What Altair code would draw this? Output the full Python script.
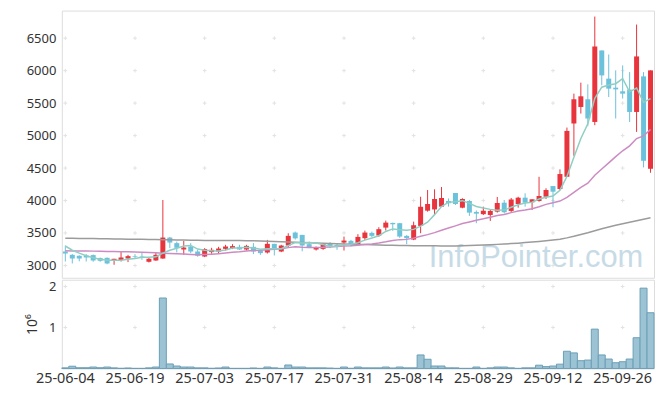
import altair as alt
import pandas as pd

# trading days (KRX), 2025-06-04 .. 2025-10-02
june = ["04", "05", "09", "10", "11", "12", "13", "16", "17", "18", "19", "20", "23", "24", "25", "26", "27", "30"]
july = ["01", "02", "03", "04", "07", "08", "09", "10", "11", "14", "15", "16", "17", "18", "21", "22", "23", "24",
        "25", "28", "29", "30", "31"]
aug = ["01", "04", "05", "06", "07", "08", "11", "12", "13", "14", "18", "19", "20", "21", "22", "25", "26", "27",
       "28", "29"]
sep = ["01", "02", "03", "04", "05", "08", "09", "10", "11", "12", "15", "16", "17", "18", "19", "22", "23", "24",
       "25", "26", "29", "30"]
octo = ["01", "02"]
dates = (["25-06-" + d for d in june] + ["25-07-" + d for d in july] + ["25-08-" + d for d in aug]
         + ["25-09-" + d for d in sep] + ["25-10-" + d for d in octo])

opens = [3215, 3164, 3149, 3154, 3160, 3114, 3118, 3083, 3083, 3107,
         3140, 3138, 3057, 3077, 3107, 3430, 3344, 3246, 3292, 3215,
         3138, 3206, 3215, 3256, 3267, 3287, 3246, 3287, 3230, 3200,
         3333, 3215, 3307, 3507, 3471, 3328, 3246, 3256, 3333, 3318,
         3353, 3379, 3328, 3420, 3502, 3461, 3583, 3655, 3651, 3456,
         3399, 3609, 3844, 3863, 3906, 3993, 4116, 3890, 3993, 3824,
         3790, 3778, 3829, 3967, 3840, 3947, 4044, 3973, 3993, 4059,
         4223, 4177, 4366, 5186, 5441, 5559, 5210, 6311, 5877, 5738,
         5682, 5708, 5364, 5912, 4489]
highs = [3307, 3175, 3157, 3175, 3169, 3123, 3123, 3103, 3210, 3164,
         3175, 3195, 3114, 3200, 4008, 3440, 3368, 3379, 3344, 3241,
         3267, 3272, 3287, 3318, 3328, 3318, 3318, 3344, 3241, 3394,
         3333, 3318, 3497, 3522, 3471, 3368, 3292, 3344, 3359, 3344,
         3445, 3394, 3482, 3537, 3522, 3589, 3691, 3660, 3655, 3467,
         3675, 4059, 4162, 4173, 4208, 4032, 4116, 4035, 4009, 3847,
         3906, 3855, 4055, 4008, 4039, 4059, 4111, 4019, 4366, 4188,
         4223, 4480, 5124, 5646, 5815, 5789, 6833, 6311, 6249, 6004,
         6081, 5978, 6710, 5978, 6004]
lows = [3061, 3031, 3064, 3061, 3057, 3057, 3018, 3011, 3061, 3052,
        3103, 3087, 3046, 3072, 3103, 3267, 3200, 3164, 3190, 3134,
        3129, 3180, 3180, 3230, 3252, 3241, 3230, 3175, 3164, 3184,
        3154, 3206, 3282, 3399, 3218, 3267, 3230, 3241, 3267, 3241,
        3230, 3292, 3318, 3394, 3436, 3441, 3537, 3533, 3425, 3328,
        3390, 3497, 3829, 3778, 3901, 3906, 3932, 3881, 3763, 3651,
        3778, 3686, 3814, 3801, 3809, 3890, 3906, 3855, 3982, 4024,
        3896, 4162, 4366, 4689, 5339, 5144, 5160, 5774, 5594, 5263,
        5570, 5210, 5057, 4510, 4428]
closes = [3184, 3107, 3107, 3123, 3077, 3072, 3031, 3103, 3123, 3144,
          3130, 3123, 3103, 3164, 3430, 3353, 3272, 3276, 3215, 3149,
          3252, 3241, 3261, 3292, 3298, 3246, 3302, 3215, 3190, 3333,
          3246, 3307, 3456, 3418, 3307, 3276, 3276, 3328, 3298, 3298,
          3384, 3328, 3440, 3507, 3456, 3559, 3660, 3635, 3445, 3420,
          3620, 3904, 3947, 4024, 4039, 3958, 3947, 4024, 3814, 3798,
          3843, 3840, 3962, 3820, 4016, 4044, 3967, 4019, 4070, 4162,
          4136, 4408, 5072, 5559, 5605, 5263, 6372, 5927, 5723, 5712,
          5646, 5364, 6219, 4612, 6004]
volumes = [15000, 55000, 18000, 18000, 35000, 18000, 35000, 15000, 5000, 12000,
           3000, 3000, 15000, 35000, 1720000, 110000, 60000, 35000, 35000, 15000,
           15000, 5000, 12000, 35000, 3000, 3000, 3000, 12000, 3000, 35000,
           15000, 3000, 85000, 35000, 35000, 15000, 15000, 15000, 10000, 3000,
           35000, 5000, 35000, 15000, 15000, 15000, 35000, 12000, 35000, 15000,
           15000, 330000, 225000, 60000, 60000, 15000, 15000, 3000, 3000, 35000,
           3000, 15000, 35000, 35000, 15000, 3000, 15000, 15000, 80000, 45000,
           60000, 105000, 420000, 380000, 190000, 205000, 960000, 330000, 230000, 140000,
           165000, 230000, 750000, 1960000, 1360000]
ma5 = [3300, 3235, 3190, 3150, 3120, 3097, 3082, 3081, 3081, 3095,
       3106, 3125, 3125, 3133, 3190, 3235, 3264, 3299, 3309, 3253,
       3233, 3227, 3224, 3239, 3269, 3268, 3280, 3271, 3250, 3257,
       3257, 3258, 3306, 3352, 3347, 3353, 3347, 3321, 3297, 3295,
       3317, 3327, 3350, 3391, 3423, 3458, 3524, 3563, 3551, 3544,
       3556, 3605, 3667, 3783, 3907, 3974, 3983, 3998, 3956, 3908,
       3885, 3864, 3851, 3853, 3896, 3936, 3962, 3973, 4023, 4052,
       4071, 4159, 4370, 4667, 4956, 5181, 5574, 5745, 5778, 5799,
       5876, 5674, 5733, 5512, 5570]
ma20 = [3225, 3224, 3223, 3222, 3221, 3219, 3217, 3215, 3213, 3210,
        3207, 3203, 3199, 3195, 3190, 3185, 3180, 3175, 3170, 3164,
        3168, 3174, 3182, 3191, 3202, 3210, 3224, 3229, 3233, 3242,
        3248, 3257, 3275, 3288, 3281, 3278, 3278, 3280, 3285, 3292,
        3299, 3303, 3312, 3323, 3331, 3346, 3364, 3385, 3398, 3402,
        3421, 3451, 3475, 3506, 3542, 3576, 3610, 3645, 3670, 3695,
        3718, 3744, 3770, 3786, 3814, 3838, 3853, 3873, 3904, 3941,
        3967, 3992, 4048, 4125, 4203, 4268, 4390, 4485, 4580, 4676,
        4766, 4842, 4955, 4995, 5095]
ma60 = [3420, 3418, 3417, 3415, 3414, 3412, 3410, 3409, 3407, 3405,
        3403, 3402, 3400, 3399, 3398, 3396, 3394, 3392, 3390, 3388,
        3386, 3385, 3384, 3384, 3383, 3383, 3382, 3380, 3377, 3374,
        3370, 3366, 3362, 3358, 3354, 3350, 3346, 3342, 3338, 3335,
        3332, 3328, 3325, 3322, 3319, 3316, 3313, 3310, 3308, 3306,
        3305, 3304, 3303, 3302, 3301, 3300, 3301, 3303, 3306, 3310,
        3314, 3319, 3325, 3331, 3337, 3344, 3352, 3360, 3369, 3380,
        3392, 3405, 3425, 3450, 3478, 3505, 3535, 3565, 3592, 3618,
        3643, 3667, 3690, 3712, 3735]

price_ticks = [3000, 3500, 4000, 4500, 5000, 5500, 6000, 6500]
volume_ticks = [1000000, 2000000]
label_dates = dates[::10]

RED = "#e8343c"
BLUE = "#6cc2da"
FONT = "Noto Sans"
CROSS = "#e2e2e2"

df = pd.DataFrame({"date": dates, "open": opens, "high": highs, "low": lows, "close": closes,
                   "volume": volumes, "ma5": ma5, "ma20": ma20, "ma60": ma60})
df["dir"] = ["up" if c >= o else "down" for o, c in zip(opens, closes)]

price_cross = pd.DataFrame([(d, v) for d in label_dates for v in price_ticks], columns=["date", "value"])
vol_cross = pd.DataFrame([(d, v) for d in label_dates for v in volume_ticks], columns=["date", "value"])

xscale = alt.Scale(type="band", paddingInner=0, paddingOuter=0)
pscale = alt.Scale(domain=[2811, 6925], nice=False, zero=False)
vscale = alt.Scale(domain=[0, 2165000], nice=False)
color = alt.Color("dir:N", scale=alt.Scale(domain=["up", "down"], range=[RED, BLUE]), legend=None)
cross_shape = "M-1,0H1M0,-1V1"

price_axis = alt.Axis(values=price_ticks, format="d", labelOverlap=False, ticks=False, domain=False,
                      grid=False, labelFontSize=13, labelColor="#333", labelFont=FONT, labelPadding=6,
                      title=None)

wm = alt.Chart(pd.DataFrame({"t": ["InfoPointer.com"]})).mark_text(
    font="Liberation Sans", fontSize=31, color="#c7dbe6", align="left", baseline="alphabetic"
).encode(x=alt.value(368), y=alt.value(257), text="t:N")

pcross = alt.Chart(price_cross).mark_point(
    shape=cross_shape, size=14, filled=False, color=CROSS, strokeWidth=1, opacity=1
).encode(x=alt.X("date:O", scale=xscale, axis=None), y=alt.Y("value:Q", scale=pscale, axis=price_axis))

base = alt.Chart(df).encode(x=alt.X("date:O", scale=xscale, axis=None))
wick = base.mark_rule(strokeWidth=1).encode(
    y=alt.Y("low:Q", scale=pscale, axis=price_axis), y2="high:Q", color=color)
body = base.mark_bar(size=5).encode(y=alt.Y("open:Q", scale=pscale, axis=price_axis), y2="close:Q",
                                    color=color)
l60 = base.mark_line(color="#9b9b9b", strokeWidth=1.5).encode(y=alt.Y("ma60:Q", scale=pscale, axis=price_axis))
l20 = base.mark_line(color="#cc8cc3", strokeWidth=1.5).encode(y=alt.Y("ma20:Q", scale=pscale, axis=price_axis))
l5 = base.mark_line(color="#8fcfc3", strokeWidth=1.5).encode(y=alt.Y("ma5:Q", scale=pscale, axis=price_axis))

price = alt.layer(wm, pcross, wick, body, l60, l20, l5).properties(width=594, height=268)

x_axis = alt.Axis(values=label_dates, labelAngle=0, ticks=False, domain=False, grid=False,
                  labelFontSize=14.5, labelColor="#333", labelFont=FONT, labelPadding=3, title=None)
vol_axis = alt.Axis(values=volume_ticks, labelExpr="datum.value / 1000000", labelOverlap=False, ticks=False,
                    domain=False, grid=False, labelFontSize=13, labelColor="#333", labelFont=FONT,
                    labelPadding=6, title="10⁶", titleFont=FONT, titleFontSize=14, titleFontWeight="normal",
                    titleColor="#333", titlePadding=9)

vcross = alt.Chart(vol_cross).mark_point(
    shape=cross_shape, size=14, filled=False, color=CROSS, strokeWidth=1, opacity=1
).encode(x=alt.X("date:O", scale=xscale, axis=x_axis), y=alt.Y("value:Q", scale=vscale, axis=vol_axis))
vbars = alt.Chart(df).mark_bar(color="#9cc3d4", stroke="#6b9fb7", strokeWidth=1).encode(
    x=alt.X("date:O", scale=xscale, axis=x_axis),
    y=alt.Y("volume:Q", scale=vscale, axis=vol_axis))
vol = alt.layer(vcross, vbars).properties(width=594, height=89)

chart = alt.vconcat(price, vol, spacing=0).properties(
    padding={"left": 17, "top": 1, "right": 2, "bottom": 2}
).configure_view(stroke="#e3e3e3").configure(background="white")

chart.save("out.html", embed_options={"renderer": "svg", "actions": False})
